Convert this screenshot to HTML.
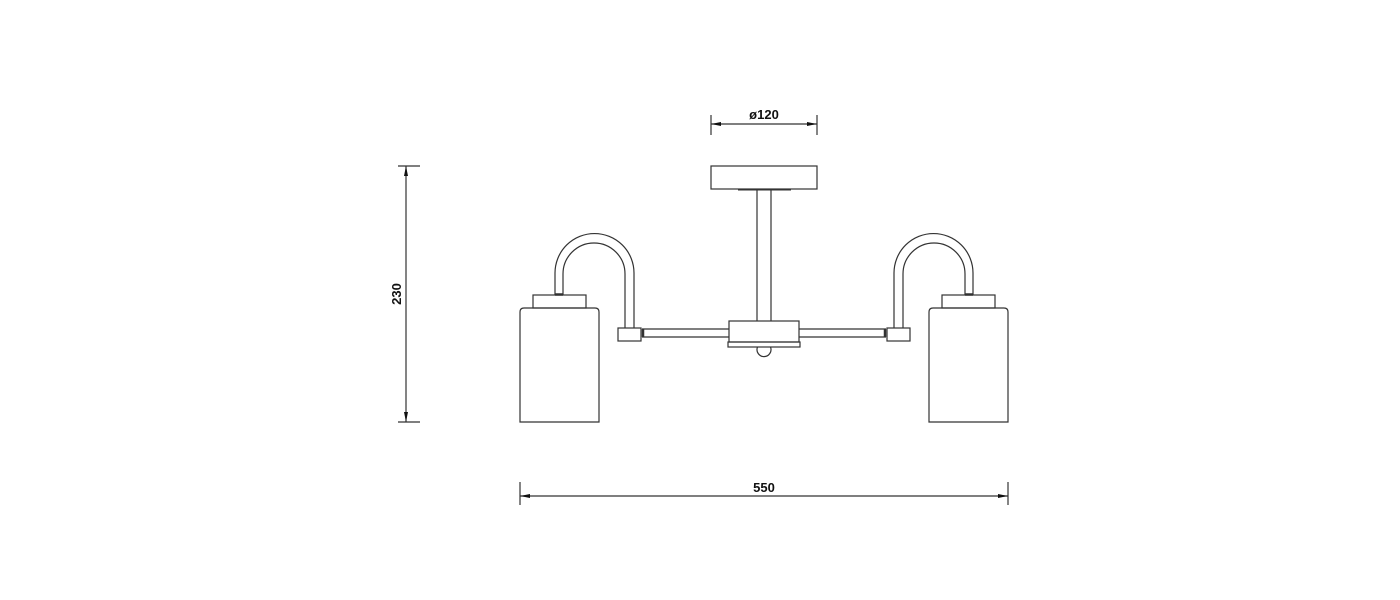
<!DOCTYPE html>
<html><head><meta charset="utf-8"><style>
html,body{margin:0;padding:0;background:#fff;}
svg{display:block;}
text{font-family:"Liberation Sans",sans-serif;font-weight:bold;fill:#111;}
</style></head><body>
<svg width="1400" height="600" viewBox="0 0 1400 600" xmlns="http://www.w3.org/2000/svg">
<g fill="none" stroke="#333" stroke-width="1.2">
  <!-- dim 120 -->
  <line x1="711" y1="115" x2="711" y2="135"/>
  <line x1="817" y1="115" x2="817" y2="135"/>
  <line x1="711" y1="124" x2="817" y2="124"/>
  <!-- dim 550 -->
  <line x1="520" y1="482" x2="520" y2="505"/>
  <line x1="1008" y1="482" x2="1008" y2="505"/>
  <line x1="520" y1="496" x2="1008" y2="496"/>
  <!-- dim 230 -->
  <line x1="398" y1="166" x2="420" y2="166"/>
  <line x1="398" y1="422" x2="420" y2="422"/>
  <line x1="406" y1="166" x2="406" y2="422"/>
  <!-- canopy -->
  <rect x="711" y="166" width="106" height="23"/>
  <line x1="738" y1="189.5" x2="791" y2="189.5" stroke-width="2"/>
  <!-- stem -->
  <line x1="757" y1="190" x2="757" y2="321"/>
  <line x1="771" y1="190" x2="771" y2="321"/>
  <!-- center box -->
  <rect x="729" y="321" width="70" height="21"/>
  <rect x="728" y="342" width="72" height="5"/>
  <path d="M757.5 347 A7 7 0 1 0 770.5 347"/>
  <g id="L">
    <line x1="642" y1="329" x2="729" y2="329"/>
    <line x1="642" y1="337" x2="729" y2="337"/>
    <rect x="618" y="328" width="23" height="13"/>
    <line x1="643" y1="329" x2="643" y2="337" stroke-width="2.5"/>
    <path d="M555 295 L555 273 A39.5 39.5 0 0 1 634 273 L634 328"/>
    <path d="M563 295 L563 274 A31 31 0 0 1 625 274 L625 328"/>
    <line x1="555" y1="294.5" x2="563" y2="294.5" stroke-width="2.5"/>
    <rect x="533" y="295" width="53" height="13"/>
    <path d="M520 422 L520 312 Q520 308 524 308 L595 308 Q599 308 599 312 L599 422 Z"/>
  </g>
  <use href="#L" transform="translate(1528 0) scale(-1 1)"/>
</g>
<g fill="#111">
  <path d="M711 124 L721 122 L721 126 Z"/>
  <path d="M817 124 L807 122 L807 126 Z"/>
  <path d="M520 496 L530 494 L530 498 Z"/>
  <path d="M1008 496 L998 494 L998 498 Z"/>
  <path d="M406 166 L404 176 L408 176 Z"/>
  <path d="M406 422 L404 412 L408 412 Z"/>
</g>
<text x="764" y="119" font-size="13" text-anchor="middle">ø120</text>
<text x="764" y="492" font-size="13" text-anchor="middle">550</text>
<text x="0" y="0" font-size="13" text-anchor="middle" transform="translate(401 294) rotate(-90)">230</text>
</svg>
</body></html>
